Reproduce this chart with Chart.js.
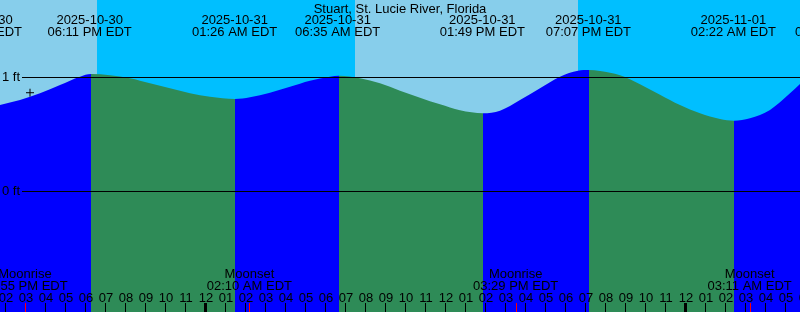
<!DOCTYPE html>
<html>
<head>
<meta charset="utf-8">
<script src="https://cdn.jsdelivr.net/npm/chart.js@4/dist/chart.umd.min.js"></script>
<style>
  html, body { margin: 0; padding: 0; background: #fff; }
  #wrap { width: 800px; height: 312px; position: relative; }
</style>
</head>
<body>
<div id="wrap"><canvas id="tideChart"></canvas></div>
<script>
/* ===== data (hours counted from 2025-10-31 00:00 EDT) ===== */
const stationName = 'Stuart, St. Lucie River, Florida';

const tideHours = [
  -10.3, -9.3, -8.3, -7.3, -6.3, -5.75, -4.8, -3.8, -2.8, -1.8, -0.8, 0.2,
  1.45, 2.2, 3.2, 4.2, 5.2, 6.2, 6.65, 7.7, 8.7, 9.7, 10.7, 11.7, 12.7,
  13.85, 14.7, 15.7, 16.7, 17.7, 18.6, 19.15, 19.7, 20.7, 21.7, 22.7, 23.7,
  24.7, 25.7, 26.4, 27.2, 28.2, 29.2, 29.7,
];
const tideFeet = [
  0.754, 0.798, 0.857, 0.930, 1.003, 1.026, 1.015, 0.989, 0.945, 0.901, 0.857, 0.827,
  0.807, 0.822, 0.862, 0.915, 0.968, 1.003, 1.012, 0.989, 0.945, 0.880, 0.818, 0.760, 0.708,
  0.682, 0.704, 0.798, 0.901, 1.003, 1.055, 1.061, 1.053, 1.015, 0.937, 0.845, 0.754,
  0.682, 0.632, 0.617, 0.638, 0.711, 0.857, 0.939,
];

const tideEventHours = [-11.33, -5.817, 1.433, 6.583, 13.817, 19.117, 26.367, 31.583];
const tideEventKind  = ['Low', 'High', 'Low', 'High', 'Low', 'High', 'Low', 'High'];
const tideEventDate  = ['2025-10-30', '2025-10-30', '2025-10-31', '2025-10-31',
                        '2025-10-31', '2025-10-31', '2025-11-01', '2025-11-01'];
const tideEventTime  = ['12:40 PM EDT', '06:11 PM EDT', '01:26 AM EDT', '06:35 AM EDT',
                        '01:49 PM EDT', '07:07 PM EDT', '02:22 AM EDT', '07:35 AM EDT'];

const moonHours = [-9.05, 2.167, 15.483, 27.183];
const moonKind  = ['Moonrise', 'Moonset', 'Moonrise', 'Moonset'];
const moonTime  = ['02:55 PM EDT', '02:10 AM EDT', '03:29 PM EDT', '03:11 AM EDT'];

const sunHours = [-5.45, 7.47, 18.58];
const sunKind  = ['Sunset', 'Sunrise', 'Sunset'];

const hourTicks = [
  -11, -10, -9, -8, -7, -6, -5, -4, -3, -2, -1, 0, 1, 2, 3, 4, 5, 6, 7, 8, 9, 10,
  11, 12, 13, 14, 15, 16, 17, 18, 19, 20, 21, 22, 23, 24, 25, 26, 27, 28, 29, 30,
];
const hourLabels = [
  '01', '02', '03', '04', '05', '06', '07', '08', '09', '10', '11', '12', '01', '02',
  '03', '04', '05', '06', '07', '08', '09', '10', '11', '12', '01', '02', '03', '04',
  '05', '06', '07', '08', '09', '10', '11', '12', '01', '02', '03', '04', '05', '06',
];

const depthTicks  = [0, 1];
const depthLabels = ['0 ft', '1 ft'];

const nowHour = -8.8;
const nowFeet = 0.862;

/* ===== styles ===== */
const DAY = '#87CEEB';
const NIGHT = '#00BFFF';
const RISE = '#0000FF';
const FALL = '#2E8B57';
const FONT = '13px "Liberation Sans", Arial, sans-serif';

const rising = t => tideEventKind[tideEventHours.findIndex(h => h > t)] === 'High';

/* 空・目盛・ラベルをスケール経由で描く */
const tideDecor = {
  id: 'tideDecor',
  beforeDatasetsDraw(chart) {
    const { ctx, chartArea: a, scales: { x } } = chart;
    const edges = [x.min, ...sunHours, x.max];
    let night = sunKind[0] === 'Sunrise';
    ctx.save();
    for (let i = 0; i < edges.length - 1; i++) {
      const x0 = Math.round(x.getPixelForValue(edges[i]));
      const x1 = Math.round(x.getPixelForValue(edges[i + 1]));
      ctx.fillStyle = night ? NIGHT : DAY;
      ctx.fillRect(x0, a.top, x1 - x0, a.bottom - a.top);
      night = !night;
    }
    ctx.restore();
  },
  afterDatasetsDraw(chart) {
    const { ctx, chartArea: a, scales: { x, y } } = chart;
    ctx.save();
    ctx.font = FONT;
    ctx.fillStyle = '#000';
    ctx.textBaseline = 'alphabetic';

    // depth lines
    depthTicks.forEach((v, i) => {
      const py = Math.round(y.getPixelForValue(v));
      ctx.fillRect(22, py, a.right - 22, 1);
      ctx.textAlign = 'left';
      ctx.fillText(depthLabels[i], 2, py + 4);
    });

    // title + high / low labels
    ctx.textAlign = 'center';
    ctx.fillText(stationName, (a.left + a.right) / 2, 13);
    tideEventHours.forEach((h, i) => {
      const px = x.getPixelForValue(h);
      ctx.fillText(tideEventDate[i], px, 24);
      ctx.fillText(tideEventTime[i], px, 36);
    });

    // moon labels
    moonHours.forEach((h, i) => {
      const px = x.getPixelForValue(h);
      ctx.fillText(moonKind[i], px, 278);
      ctx.fillText(moonTime[i], px, 290);
    });

    // hour labels and ticks
    hourTicks.forEach((h, i) => {
      const px = x.getPixelForValue(h);
      ctx.fillStyle = '#000';
      ctx.fillText(hourLabels[i], px, 302);
      const w = h % 24 === 0 ? 3 : 1;
      ctx.fillRect(Math.round(px) - 1 - (w - 1) / 2, 303, w, a.bottom - 303);
    });
    ctx.fillStyle = '#FF0000';
    moonHours.forEach(h => {
      ctx.fillRect(Math.round(x.getPixelForValue(h)), 303, 1, a.bottom - 303);
    });
    ctx.restore();
  },
};

const ctx = document.getElementById('tideChart').getContext('2d');
new Chart(ctx, {
  type: 'line',
  data: {
    datasets: [
      {
        data: tideHours.map((h, i) => ({ x: h, y: tideFeet[i] })),
        borderColor: 'rgba(0,0,0,0)',
        borderWidth: 0,
        backgroundColor: RISE,
        pointRadius: 0,
        cubicInterpolationMode: 'monotone',
        fill: 'start',
        segment: {
          backgroundColor: c => rising((c.p0.parsed.x + c.p1.parsed.x) / 2) ? RISE : FALL,
        },
      },
      {
        type: 'scatter',
        data: [{ x: nowHour, y: nowFeet }],
        pointStyle: 'cross',
        pointRadius: 4,
        borderColor: '#000',
        borderWidth: 1,
      },
    ],
  },
  options: {
    responsive: true,
    maintainAspectRatio: false,
    animation: false,
    layout: { padding: 0, autoPadding: false },
    plugins: { legend: { display: false }, tooltip: { enabled: false } },
    scales: {
      x: { type: 'linear', min: -10.3, max: 29.7, display: false },
      y: { type: 'linear', min: -1.0614, max: 1.6754, display: false },
    },
  },
  plugins: [tideDecor],
});
</script>
</body>
</html>
